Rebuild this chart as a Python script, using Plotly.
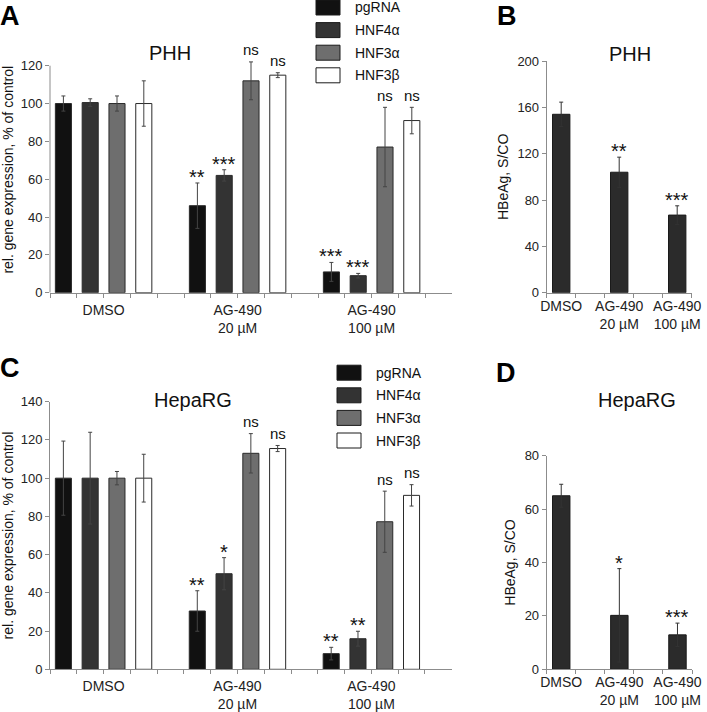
import plotly.graph_objects as go

W, H = 707, 712

# ---------------- data ----------------
series = ["pgRNA", "HNF4α", "HNF3α", "HNF3β"]
series_colors = ["#111111", "#333333", "#6e6e6e", "#ffffff"]
groups = ["DMSO", "AG-490<br>20 µM", "AG-490<br>100 µM"]

# Panel A: PHH relative gene expression (% of control)
phh_vals = {
    "pgRNA": [100, 46, 11],
    "HNF4α": [100.5, 62, 9],
    "HNF3α": [100, 112, 77],
    "HNF3β": [100, 115, 91],
}
phh_errs = {
    "pgRNA": [4, 12, 5],
    "HNF4α": [2, 3, 1.2],
    "HNF3α": [4, 10, 21],
    "HNF3β": [12, 1.3, 7],
}
phh_sig = {
    "pgRNA": ["", "**", "***"],
    "HNF4α": ["", "***", "***"],
    "HNF3α": ["", "ns", "ns"],
    "HNF3β": ["", "ns", "ns"],
}

# Panel B: PHH HBeAg
hbeag_phh = [154, 104, 67]
hbeag_phh_err = [10.5, 13, 8]
hbeag_phh_sig = ["", "**", "***"]

# Panel C: HepaRG relative gene expression
hep_vals = {
    "pgRNA": [100, 30.5, 8.2],
    "HNF4α": [100, 50, 16],
    "HNF3α": [100, 113, 77.2],
    "HNF3β": [100, 115.5, 91],
}
hep_errs = {
    "pgRNA": [19.4, 10.6, 3.3],
    "HNF4α": [24, 8.4, 3.9],
    "HNF3α": [3.5, 10.3, 16],
    "HNF3β": [12.5, 1.6, 5.6],
}
hep_sig = {
    "pgRNA": ["", "**", "**"],
    "HNF4α": ["", "*", "**"],
    "HNF3α": ["", "ns", "ns"],
    "HNF3β": ["", "ns", "ns"],
}

# Panel D: HepaRG HBeAg
hbeag_hep = [65, 20.2, 12.9]
hbeag_hep_err = [4.3, 17.5, 4.4]
hbeag_hep_sig = ["", "*", "***"]

# ---------------- helpers ----------------
FONT = "Liberation Sans, Arial, sans-serif"
AXC = "#8c8c8c"
TXT = "#222222"


def px(x):
    return x / W


def py(y):
    return 1 - y / H


fig = go.Figure()
annotations = []
shapes = []


def sig_ann(label, x, ytop, xref, yref):
    if not label:
        return
    is_ns = label == "ns"
    annotations.append(dict(
        x=x, y=ytop, xref=xref, yref=yref, text=label, showarrow=False,
        yanchor="middle", xanchor="center",
        yshift=12 if is_ns else 6,
        font=dict(family=FONT, size=15 if is_ns else 20, color="#111111"),
    ))


def grouped_panel(vals, errs, sigs, xa, ya, xref, yref):
    for si, name in enumerate(series):
        xs = [gi * 5 + si for gi in range(len(groups))]
        fig.add_trace(go.Bar(
            x=xs, y=vals[name], name=name, width=0.6,
            marker=dict(color=series_colors[si], line=dict(color="#2a2a2a", width=1)),
            error_y=dict(type="data", array=errs[name], visible=True,
                         color="#444444", thickness=1, width=2),
            xaxis=xa, yaxis=ya, showlegend=False,
        ))
        for gi in range(len(groups)):
            sig_ann(sigs[name][gi], xs[gi], vals[name][gi] + errs[name][gi], xref, yref)


def single_panel(vals, errs, sigs, xa, ya, xref, yref):
    xs = [gi * 2 for gi in range(len(groups))]
    fig.add_trace(go.Bar(
        x=xs, y=vals, width=0.6,
        marker=dict(color="#2b2b2b", line=dict(color="#1a1a1a", width=1)),
        error_y=dict(type="data", array=errs, visible=True,
                     color="#333333", thickness=1, width=2),
        xaxis=xa, yaxis=ya, showlegend=False,
    ))
    for gi in range(len(groups)):
        sig_ann(sigs[gi], xs[gi], vals[gi] + errs[gi], xref, yref)


grouped_panel(phh_vals, phh_errs, phh_sig, "x", "y", "x", "y")
single_panel(hbeag_phh, hbeag_phh_err, hbeag_phh_sig, "x2", "y2", "x2", "y2")
grouped_panel(hep_vals, hep_errs, hep_sig, "x3", "y3", "x3", "y3")
single_panel(hbeag_hep, hbeag_hep_err, hbeag_hep_sig, "x4", "y4", "x4", "y4")

# ---------------- axes ----------------
n_slots = len(groups) * 5 - 1
grp_ticks = [i - 0.5 for i in range(n_slots + 1)]
grp_text = []
for t in grp_ticks:
    lab = ""
    for gi, g in enumerate(groups):
        if abs(t - (gi * 5 + 1.5)) < 1e-6:
            lab = g
    grp_text.append(lab)

common_x = dict(showline=True, linecolor=AXC, linewidth=1, showgrid=False, zeroline=False,
                automargin=False,
                tickfont=dict(family=FONT, size=14, color=TXT), fixedrange=True)
common_y = dict(showline=True, linecolor=AXC, linewidth=1, showgrid=False, zeroline=False,
                automargin=False, fixedrange=True,
                ticks="outside", ticklen=4, tickcolor=AXC, tickwidth=1,
                tickfont=dict(family=FONT, size=13, color=TXT))


def grouped_xaxis(domain, anchor):
    return dict(common_x, domain=domain, anchor=anchor, range=[-0.5, n_slots + 0.5],
                tickmode="array", tickvals=grp_ticks, ticktext=grp_text,
                ticks="outside", ticklen=4, tickcolor=AXC, tickwidth=1)


def single_xaxis(domain, anchor):
    return dict(common_x, domain=domain, anchor=anchor, range=[-0.5, 4.5],
                tickmode="array", tickvals=[0, 2, 4], ticktext=groups, ticks="",
                minor=dict(tickmode="array", tickvals=[i - 0.5 for i in range(6)],
                           ticks="outside", ticklen=4, tickcolor=AXC, tickwidth=1))


def yaxis(domain, anchor, rng, dtick, title, standoff, showline=True):
    return dict(common_y, domain=domain, anchor=anchor, range=rng, dtick=dtick, tick0=0,
                showline=showline,
                title=dict(text=title, standoff=standoff,
                           font=dict(family=FONT, size=14, color="#111111")))


# Panel A: axis visually ends at 120, but a little head-room is kept above it
A_top_val = 120
A_rng_max = 130
A_pxu = (292.7 - 65.7) / A_top_val
fig.update_layout(
    xaxis=grouped_xaxis([px(50), px(452)], "y"),
    yaxis=yaxis([py(292.7), py(292.7 - A_rng_max * A_pxu)], "x", [0, A_rng_max], 20,
                "rel. gene expression, % of control", 6, showline=False),
    xaxis2=single_xaxis([px(546.7), px(691.7)], "y2"),
    yaxis2=yaxis([py(292.7), py(61)], "x2", [0, 200], 40, "HBeAg, S/CO", 5),
    xaxis3=grouped_xaxis([px(50), px(451.7)], "y3"),
    yaxis3=yaxis([py(669.3), py(401.7)], "x3", [0, 140], 20,
                 "rel. gene expression, % of control", 6),
    xaxis4=single_xaxis([px(546.7), px(692)], "y4"),
    yaxis4=yaxis([py(669.3), py(455.7)], "x4", [0, 80], 20, "HBeAg, S/CO", 5),
)
shapes.append(dict(type="line", xref="x domain", yref="y", x0=0, x1=0, y0=0, y1=A_top_val,
                   line=dict(color=AXC, width=1)))

# ---------------- titles & panel letters ----------------
for text, cx, cy in [("PHH", 170, 53), ("PHH", 630, 54), ("HepaRG", 193, 400), ("HepaRG", 637, 400)]:
    annotations.append(dict(x=px(cx), y=py(cy), xref="paper", yref="paper", text=text,
                            showarrow=False, xanchor="center", yanchor="middle",
                            font=dict(family=FONT, size=20, color="#111111")))
for text, cx, top in [("A", 10, 0), ("B", 507, 0), ("C", 10, 352), ("D", 506, 357)]:
    annotations.append(dict(x=px(cx), y=py(top), xref="paper", yref="paper",
                            text="<b>%s</b>" % text, showarrow=False, borderpad=0,
                            xanchor="center", yanchor="top",
                            font=dict(family=FONT, size=27, color="#000000")))

# ---------------- legends (drawn boxes) ----------------
for bx, by0 in [(316, 7.5), (337, 372.7)]:
    for si, name in enumerate(series):
        cy = by0 + si * 22.6
        shapes.append(dict(type="rect", xref="paper", yref="paper",
                           x0=px(bx), x1=px(bx + 24), y0=py(cy + 7.5), y1=py(cy - 7.5),
                           fillcolor=series_colors[si], line=dict(color="#1a1a1a", width=1)))
        annotations.append(dict(x=px(bx + 37), y=py(cy), xref="paper", yref="paper",
                                text=name, showarrow=False, xanchor="left", yanchor="middle",
                                font=dict(family=FONT, size=14, color="#111111")))

fig.update_layout(
    template="none",
    width=W, height=H, margin=dict(l=0, r=0, t=0, b=0, autoexpand=False),
    paper_bgcolor="white", plot_bgcolor="white",
    barmode="overlay", showlegend=False, hovermode=False,
    annotations=annotations, shapes=shapes,
    font=dict(family=FONT, color=TXT),
)

fig.write_html(
    "out.html",
    config={"displayModeBar": False, "staticPlot": True},
    post_script="document.body.style.margin='0';document.body.style.overflow='hidden';",
)
